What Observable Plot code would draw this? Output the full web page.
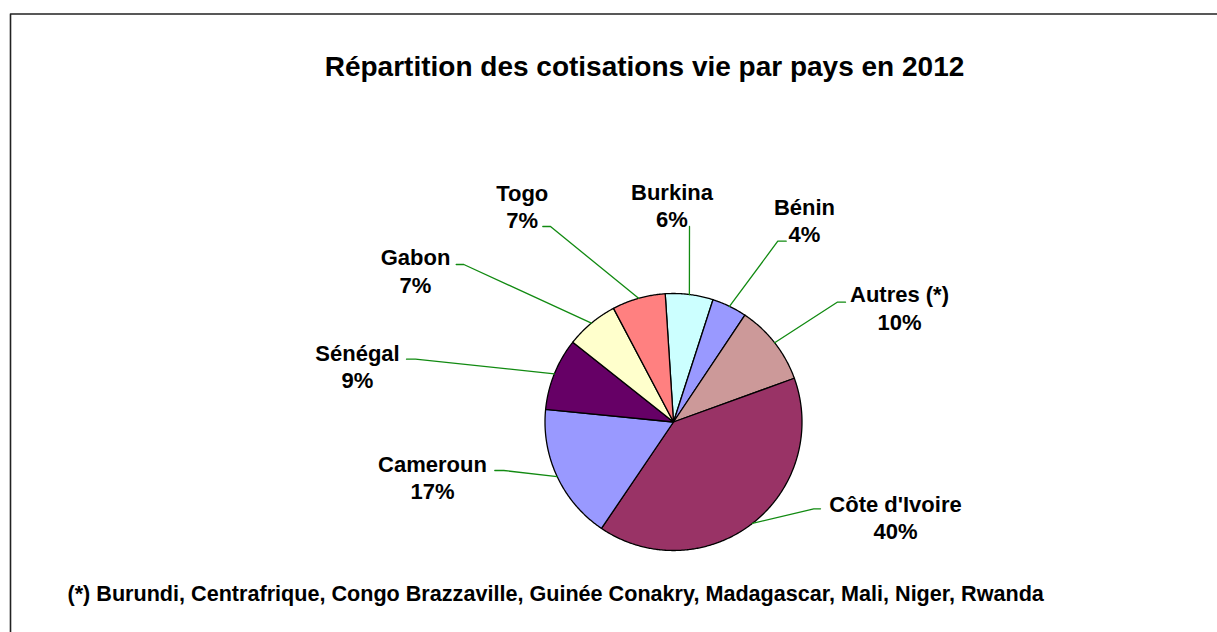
<!DOCTYPE html>
<html><head><meta charset="utf-8">
<script src="https://cdn.jsdelivr.net/npm/d3@7"></script>
<script src="https://cdn.jsdelivr.net/npm/@observablehq/plot@0.6"></script>
<style>html,body{margin:0;padding:0;background:#fff}</style>
</head><body><div id="chart"></div>
<script>
// ---- data ----
const pays = ["Burkina", "Bénin", "Autres (*)", "Côte d'Ivoire", "Cameroun", "Sénégal", "Gabon", "Togo"];
const parts = [6.0, 4.4, 10.1, 40.0, 17.1, 9.1, 6.6, 6.7];
const pourcentages = ["6%", "4%", "10%", "40%", "17%", "9%", "7%", "7%"];
const couleurs = ["#CCFFFF", "#9999FF", "#CC9999", "#993366", "#9999FF", "#660066", "#FFFFCC", "#FF8080"];
const titre = "Répartition des cotisations vie par pays en 2012";
const note = "(*) Burundi, Centrafrique, Congo Brazzaville, Guinée Conakry, Madagascar, Mali, Niger, Rwanda";

// ---- layout (pixels) ----
const W = 1217, H = 632;
const cx = 673, cy = 421.5, R = 128.5, startDeg = -3.7;
const labelPos = [[671.5, 204.5], [804, 219], [899, 306.7], [895, 516], [432, 476.4], [357, 365], [415, 269.7], [521.7, 205]];
const leaderBend = [[689, 226], [777.3, 240.7], [836.7, 301.7], [813.3, 508.3], [503.3, 470], [415, 358.7], [463.3, 264], [550, 226]];
const leaderEnd = [[689, 226], [785.7, 240.7], [845, 301.7], [820, 508.3], [494.3, 470], [406, 358.7], [455.7, 264], [542.3, 226]];
const FONT = "'Liberation Sans', Arial, Helvetica, sans-serif";

// ---- geometry ----
const total = d3.sum(parts);
const pt = (deg, r = R) => [cx + r * Math.sin(deg * Math.PI / 180), cy - r * Math.cos(deg * Math.PI / 180)];
let acc = 0;
const slices = pays.map((p, i) => {
  const a0 = startDeg + acc / total * 360;
  acc += parts[i];
  const a1 = startDeg + acc / total * 360;
  return {pays: p, a0, a1, mid: (a0 + a1) / 2};
});
const features = slices.map(s => {
  const n = Math.max(2, Math.ceil((s.a1 - s.a0) / 0.5));
  const ring = [[cx, cy]];
  for (let k = 0; k <= n; k++) ring.push(pt(s.a0 + (s.a1 - s.a0) * k / n));
  ring.push([cx, cy]);
  return {type: "Feature", properties: {pays: s.pays}, geometry: {type: "Polygon", coordinates: [ring]}};
});
const leaders = slices.flatMap((s, i) => {
  const e = pt(s.mid);
  return [
    {pays: s.pays, x: e[0], y: e[1]},
    {pays: s.pays, x: leaderBend[i][0], y: leaderBend[i][1]},
    {pays: s.pays, x: leaderEnd[i][0], y: leaderEnd[i][1]}
  ];
});
const labels = pays.map((p, i) => ({x: labelPos[i][0], y: labelPos[i][1], text: p + "\n" + pourcentages[i]}));
const border = [{x: 10, y: H + 10}, {x: 10, y: 13.5}, {x: W + 10, y: 13.5}];

const chart = Plot.plot({
  width: W, height: H, margin: 0,
  projection: {type: "identity"},
  color: {domain: pays, range: couleurs},
  style: {background: "#fff"},
  marks: [
    Plot.line(border, {x: "x", y: "y", stroke: "#222", strokeWidth: 1.6}),
    Plot.geo(features, {fill: d => d.properties.pays, stroke: "#000", strokeWidth: 1.3}),
    Plot.line(leaders, {x: "x", y: "y", z: "pays", stroke: "#118a11", strokeWidth: 1.3}),
    Plot.text(labels, {x: "x", y: "y", text: "text", fontSize: 22, fontWeight: "bold", lineHeight: 1.24, fill: "#000", fontFamily: FONT}),
    Plot.text([{x: 644, y: 66.5, t: titre}], {x: "x", y: "y", text: "t", fontSize: 28, fontWeight: "bold", fill: "#000", fontFamily: FONT}),
    Plot.text([{x: 67, y: 594, t: note}], {x: "x", y: "y", text: "t", fontSize: 21.6, fontWeight: "bold", textAnchor: "start", fill: "#000", fontFamily: FONT})
  ]
});
document.getElementById("chart").appendChild(chart);
</script>
</body></html>
